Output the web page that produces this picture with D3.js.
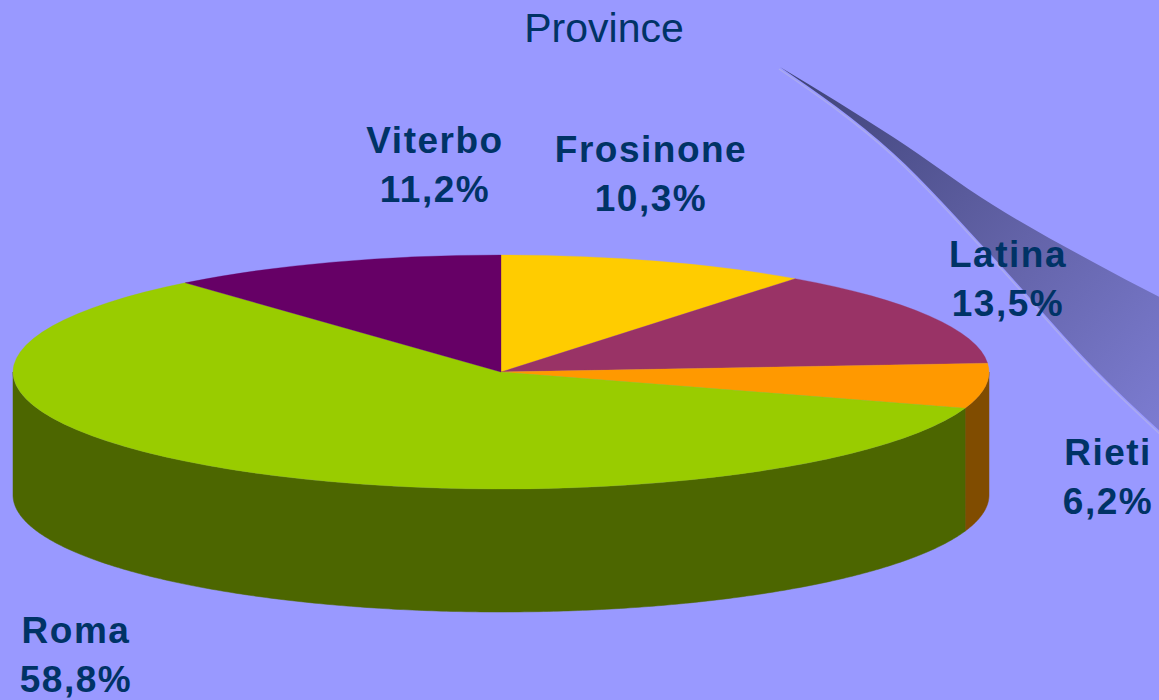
<!DOCTYPE html>
<meta charset="utf-8">
<title>Province</title>
<script src="https://d3js.org/d3.v7.min.js"></script>
<style>
  body { margin: 0; background: #9999ff; }
  svg { display: block; }
  text { font-family: "Liberation Sans", Arial, sans-serif; fill: #003366; }
</style>
<div id="chart"></div>
<script>

// data
var provinces = ["Frosinone", "Latina", "Rieti", "Roma", "Viterbo"];
var shares = [10.3, 13.5, 6.2, 58.8, 11.2];
var topColors = ["#ffcc00", "#993366", "#ff9900", "#99cc00", "#660066"];
var sideColors = ["#806600", "#4c1a33", "#804c00", "#4c6600", "#330033"];

// label anchors (centre x, first baseline)
var labelPos = [[651, 162], [1008, 267], [1108, 465], [76, 643], [435, 153]];

var width = 1159, height = 700;
var cx = 501, cy = 372, rx = 488, ry = 117, depth = 123;

var svg = d3.select("#chart").append("svg")
  .attr("width", width)
  .attr("height", height);

svg.append("rect")
  .attr("width", width).attr("height", height)
  .attr("fill", "#9999ff");

// decorative swoosh top right
var defs = svg.append("defs");
var grad = defs.append("linearGradient")
  .attr("id", "swoosh")
  .attr("gradientUnits", "userSpaceOnUse")
  .attr("x1", 800).attr("y1", 80).attr("x2", 1159).attr("y2", 420);
grad.append("stop").attr("offset", "0%").attr("stop-color", "#40447a");
grad.append("stop").attr("offset", "55%").attr("stop-color", "#6363a8");
grad.append("stop").attr("offset", "100%").attr("stop-color", "#7b7bd0");

var curve = d3.line().curve(d3.curveMonotoneX);
var upper = [[780, 67], [893, 137], [993, 205], [1093, 262], [1175, 305]];
var lower = [[780, 67], [893, 153], [993, 257], [1093, 367], [1175, 445]];
svg.append("path")
  .attr("d", curve(upper) + "L1175,445" + curve(lower.slice().reverse()).replace("M", "L"))
  .attr("fill", "url(#swoosh)");
svg.append("path")
  .attr("d", curve(lower.map(function(p) { return [p[0] - 1, p[1] + 2]; })))
  .attr("fill", "none")
  .attr("stroke", "#aaaaf0")
  .attr("stroke-width", 1.5);

// title
svg.append("text")
  .attr("x", 604).attr("y", 42)
  .attr("text-anchor", "middle")
  .style("font-size", "41px")
  .text("Province");

// pie
var pie = d3.pie().sort(null).value(function(d) { return d; });
var arcs = pie(shares);

function pt(t, dy) {
  return [cx + rx * Math.sin(t), cy - ry * Math.cos(t) + (dy || 0)];
}

// side walls, front half only (pi/2 .. 3pi/2)
arcs.forEach(function(a, i) {
  var a0 = Math.max(a.startAngle, Math.PI / 2);
  var a1 = Math.min(a.endAngle, 3 * Math.PI / 2);
  if (a1 <= a0) return;
  var n = Math.max(2, Math.ceil((a1 - a0) / 0.01));
  var ts = d3.range(n + 1).map(function(k) { return a0 + (a1 - a0) * k / n; });
  var top = ts.map(function(t) { return pt(t, 0); });
  var bot = ts.slice().reverse().map(function(t) { return pt(t, depth); });
  svg.append("path")
    .attr("d", "M" + top.concat(bot).join("L") + "Z")
    .attr("fill", sideColors[i])
    .attr("stroke", sideColors[i])
    .attr("stroke-width", 0.5);
});

// top faces
var arc = d3.arc().innerRadius(0).outerRadius(rx);
svg.append("g")
  .attr("transform", "translate(" + cx + "," + cy + ") scale(1," + (ry / rx) + ")")
  .selectAll("path")
  .data(arcs)
  .enter()
  .append("path")
    .attr("d", arc)
    .attr("fill", function(d, i) { return topColors[i]; })
    .attr("stroke", function(d, i) { return topColors[i]; })
    .attr("stroke-width", 0.5);

// labels
var lab = svg.selectAll("text.lab")
  .data(arcs)
  .enter()
  .append("text")
    .attr("class", "lab")
    .attr("text-anchor", "middle")
    .style("font-size", "37px")
    .style("font-weight", "bold")
    .style("letter-spacing", "1.5px");
lab.append("tspan")
  .attr("x", function(d, i) { return labelPos[i][0]; })
  .attr("y", function(d, i) { return labelPos[i][1]; })
  .text(function(d, i) { return provinces[i]; });
lab.append("tspan")
  .attr("x", function(d, i) { return labelPos[i][0]; })
  .attr("y", function(d, i) { return labelPos[i][1] + 49; })
  .text(function(d) { return d3.format(".1f")(d.data).replace(".", ",") + "%"; });

</script>
